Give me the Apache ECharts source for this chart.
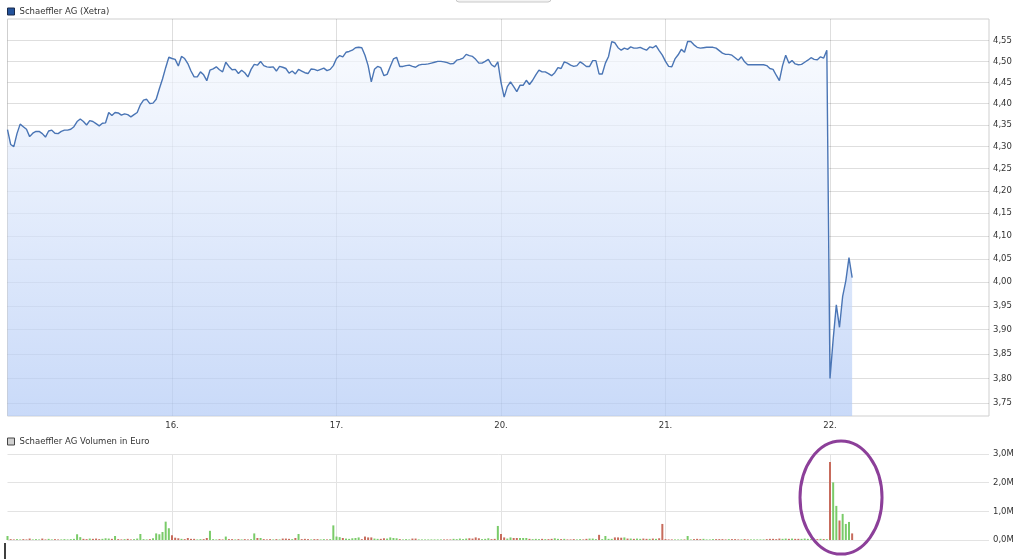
<!DOCTYPE html>
<html><head><meta charset="utf-8">
<script src="https://cdn.jsdelivr.net/npm/echarts@6/dist/echarts.min.js"></script>
<style>html,body{margin:0;padding:0;background:#fff}#c{width:1027px;height:559px}</style>
</head><body><div id="c"></div>
<script>
const priceName = 'Schaeffler AG (Xetra)';
const volName = 'Schaeffler AG Volumen in Euro';
const dayLabels = ['15.', '16.', '17.', '20.', '21.', '22.'];
const dayTicks = [1, 2, 3, 4, 5];
const slotsPerDay = 52;
const priceTicks = [3.75, 3.80, 3.85, 3.90, 3.95, 4.00, 4.05, 4.10, 4.15, 4.20, 4.25, 4.30, 4.35, 4.40, 4.45, 4.50, 4.55];
const volTicks = [0, 1, 2, 3];

const price15 = [4.339,4.305,4.300,4.330,4.352,4.346,4.340,4.323,4.331,4.335,
  4.335,4.330,4.322,4.336,4.338,4.331,4.330,4.335,4.338,4.338,
  4.340,4.346,4.358,4.364,4.358,4.350,4.360,4.358,4.353,4.348,
  4.354,4.355,4.379,4.372,4.379,4.378,4.373,4.376,4.374,
  4.369,4.374,4.379,4.397,4.408,4.410,4.400,4.401,4.410,4.435,4.458,4.485,4.510];
const price16 = [4.507,4.505,4.489,4.512,4.507,4.495,4.477,4.463,4.463,4.475,
  4.468,4.454,4.479,4.482,4.487,4.480,4.475,4.498,4.488,4.480,
  4.481,4.471,4.479,4.473,4.463,4.481,4.493,4.491,4.500,4.490,
  4.487,4.486,4.487,4.477,4.488,4.486,4.483,4.472,4.477,4.470,
  4.481,4.477,4.473,4.471,4.482,4.481,4.478,4.481,4.484,4.478,
  4.481,4.490];
const price17 = [4.507,4.514,4.511,4.522,4.524,4.527,4.533,4.534,4.533,4.515,
  4.490,4.451,4.481,4.488,4.485,4.466,4.469,4.488,4.506,4.510,
  4.488,4.488,4.490,4.491,4.488,4.486,4.491,4.493,4.493,4.494,
  4.496,4.498,4.500,4.500,4.499,4.497,4.494,4.495,4.503,4.505,
  4.508,4.517,4.514,4.512,4.505,4.496,4.496,4.500,4.505,4.492,
  4.487,4.499];
const price20 = [4.450,4.415,4.440,4.451,4.440,4.428,4.443,4.443,4.455,4.445,
  4.455,4.468,4.479,4.475,4.475,4.471,4.466,4.473,4.485,4.483,
  4.499,4.496,4.491,4.488,4.490,4.499,4.494,4.488,4.488,4.502,
  4.502,4.470,4.470,4.496,4.512,4.548,4.545,4.533,4.527,4.532,
  4.529,4.535,4.532,4.532,4.534,4.530,4.527,4.535,4.533,4.538,
  4.526,4.515];
const price21 = [4.500,4.488,4.487,4.506,4.516,4.529,4.522,4.548,4.548,4.540,
  4.534,4.532,4.533,4.534,4.534,4.534,4.532,4.526,4.520,4.517,
  4.517,4.515,4.509,4.503,4.511,4.499,4.492,4.492,4.492,4.492,
  4.492,4.492,4.490,4.483,4.481,4.467,4.454,4.490,4.515,4.496,
  4.502,4.494,4.492,4.493,4.498,4.503,4.509,4.505,4.504,4.511,
  4.508,4.527];
const price22 = [3.800,3.880,3.952,3.905,3.970,4.003,4.053,4.010];

const vol15 = [0.14,0.03,0.02,0.03,0.02,0.03,0.02,0.05,0.02,0.03,
  0.02,0.05,0.02,0.04,0.02,0.03,0.02,0.02,0.03,0.02,
  0.03,0.04,0.20,0.10,0.04,0.03,0.05,0.04,0.05,0.03,
  0.04,0.06,0.05,0.04,0.14,0.03,0.02,0.03,0.04,0.02,
  0.03,0.05,0.21,0.03,0.02,0.03,0.06,0.23,0.20,0.28,
  0.64,0.41];
const vol16 = [0.17,0.08,0.06,0.04,0.03,0.07,0.04,0.04,0.02,0.03,
  0.03,0.07,0.32,0.03,0.02,0.03,0.02,0.12,0.03,0.03,
  0.02,0.03,0.02,0.03,0.02,0.03,0.23,0.07,0.07,0.03,
  0.02,0.03,0.02,0.03,0.02,0.05,0.05,0.04,0.03,0.07,
  0.21,0.03,0.04,0.03,0.02,0.03,0.03,0.02,0.03,0.02,
  0.03,0.51];
const vol17 = [0.12,0.10,0.07,0.05,0.04,0.06,0.07,0.09,0.03,0.12,
  0.09,0.09,0.05,0.04,0.04,0.06,0.05,0.09,0.07,0.06,
  0.03,0.02,0.03,0.02,0.05,0.05,0.02,0.02,0.02,0.02,
  0.02,0.02,0.02,0.02,0.02,0.02,0.02,0.04,0.03,0.05,
  0.03,0.05,0.06,0.05,0.09,0.06,0.03,0.04,0.06,0.03,
  0.04,0.49];
const vol20 = [0.21,0.09,0.05,0.09,0.07,0.07,0.07,0.07,0.07,0.04,
  0.03,0.04,0.03,0.04,0.03,0.03,0.04,0.06,0.04,0.03,
  0.04,0.02,0.02,0.03,0.02,0.03,0.02,0.04,0.05,0.05,
  0.03,0.18,0.03,0.14,0.04,0.04,0.09,0.09,0.08,0.09,
  0.05,0.05,0.04,0.05,0.04,0.05,0.04,0.04,0.05,0.04,
  0.06,0.56];
const vol21 = [0.03,0.02,0.02,0.02,0.02,0.02,0.02,0.14,0.02,0.03,
  0.04,0.03,0.04,0.02,0.02,0.03,0.03,0.03,0.03,0.02,
  0.03,0.03,0.03,0.02,0.02,0.03,0.02,0.02,0.02,0.02,
  0.02,0.02,0.03,0.04,0.04,0.03,0.05,0.04,0.05,0.04,
  0.05,0.04,0.04,0.04,0.05,0.04,0.03,0.04,0.03,0.04,
  0.03,0.03];
const vol22 = [2.72,2.01,1.19,0.68,0.91,0.56,0.63,0.23];

const priceDays = [price15, price16, price17, price20, price21, price22];
const volDays = [vol15, vol16, vol17, vol20, vol21, vol22];

const priceData = [];
const volData = [];
priceDays.forEach((arr, d) => arr.forEach((p, s) => priceData.push([d + s / slotsPerDay, p])));
volDays.forEach((arr, d) => arr.forEach((v, s) => volData.push([d + s / slotsPerDay, v])));

const GREEN = '#7acb69', RED = '#c76b5c';
const volColors = priceData.map((pt, i) => (i === 0 || pt[1] >= priceData[i - 1][1]) ? GREEN : RED);

const FONT = 'DejaVu Sans';
const FS = 8.5;
const xMax = 981.5 / 164.5;
const gridLine = 'rgba(0,0,0,0.13)';

const chart = echarts.init(document.getElementById('c'), null, {renderer: 'canvas'});
const option = {
  animation: false,
  backgroundColor: '#fff',
  legend: [
    {left: 7, top: 7, padding: 0, itemWidth: 7, itemHeight: 7, icon: 'rect', selectedMode: false,
     textStyle: {fontFamily: FONT, fontSize: FS, color: '#333'},
     data: [{name: priceName, itemStyle: {color: '#23529b', borderColor: '#1a2a4a', borderWidth: 1}}]},
    {left: 7, top: 437, padding: 0, itemWidth: 7, itemHeight: 7, icon: 'rect', selectedMode: false,
     textStyle: {fontFamily: FONT, fontSize: FS, color: '#333'},
     data: [{name: volName, itemStyle: {color: '#d0d0d0', borderColor: '#444', borderWidth: 1}}]}
  ],
  grid: [
    {left: 7.5, right: 38, top: 19, height: 397, show: true, borderColor: '#cfcfcf', borderWidth: 1, backgroundColor: 'transparent'},
    {left: 7.5, right: 38, top: 454, height: 86}
  ],
  xAxis: [
    {type: 'value', gridIndex: 0, min: 0, max: xMax, z: 3,
     axisLine: {show: false},
     axisTick: {show: false, customValues: dayTicks},
     axisLabel: {customValues: dayTicks, formatter: v => dayLabels[Math.round(v)], margin: 5,
                 color: '#333', fontFamily: FONT, fontSize: FS},
     splitLine: {show: true, lineStyle: {color: gridLine, width: 1}}},
    {type: 'value', gridIndex: 1, min: 0, max: xMax,
     axisLine: {show: false},
     axisTick: {show: false, customValues: dayTicks},
     axisLabel: {show: false, customValues: dayTicks},
     splitLine: {show: true, lineStyle: {color: '#e3e3e3', width: 1}}}
  ],
  yAxis: [
    {type: 'log', logBase: 10, gridIndex: 0, position: 'right', min: 3.7245, max: 4.603, z: 3,
     axisLine: {show: false},
     axisTick: {show: false, customValues: priceTicks},
     axisLabel: {customValues: priceTicks, formatter: v => v.toFixed(2).replace('.', ','), margin: 4,
                 color: '#333', fontFamily: FONT, fontSize: FS},
     splitLine: {show: true, lineStyle: {color: gridLine, width: 1}}},
    {type: 'value', gridIndex: 1, position: 'right', min: 0, max: 3,
     axisLine: {show: false},
     axisTick: {show: false, customValues: volTicks},
     axisLabel: {customValues: volTicks, formatter: v => v.toFixed(1).replace('.', ',') + 'M', margin: 4,
                 color: '#333', fontFamily: FONT, fontSize: FS},
     splitLine: {show: true, lineStyle: {color: '#e3e3e3', width: 1}}}
  ],
  series: [
    {name: priceName, type: 'line', xAxisIndex: 0, yAxisIndex: 0, data: priceData,
     showSymbol: false, symbol: 'none', color: '#4a75b5',
     lineStyle: {color: '#4a75b5', width: 1.4},
     areaStyle: {origin: 'start', color: new echarts.graphic.LinearGradient(0, 0, 0, 1, [
        {offset: 0, color: '#f6f9fe'}, {offset: 1, color: '#b2caf6'}])}},
    {name: volName, type: 'bar', xAxisIndex: 1, yAxisIndex: 1, barWidth: 2,
     color: '#d0d0d0',
     data: volData.map((pt, i) => ({value: pt, itemStyle: {color: volColors[i]}}))}
  ]
};
chart.setOption(option);

const center = chart.convertToPixel({gridIndex: 1}, [5.067, 1.48]);
chart.setOption({graphic: [
  {type: 'ellipse', z: 100, shape: {cx: center[0], cy: center[1], rx: 41, ry: 56.5},
   style: {fill: 'none', stroke: '#8c3f99', lineWidth: 3}},
  {type: 'rect', z: 100, shape: {x: 456, y: -6, width: 95, height: 8, r: 3},
   style: {fill: '#f3f3f3', stroke: '#c8c8c8', lineWidth: 1}},
  {type: 'line', z: 100, shape: {x1: 5, y1: 543, x2: 5, y2: 559},
   style: {stroke: '#000', lineWidth: 1.5}}
]});
</script></body></html>
